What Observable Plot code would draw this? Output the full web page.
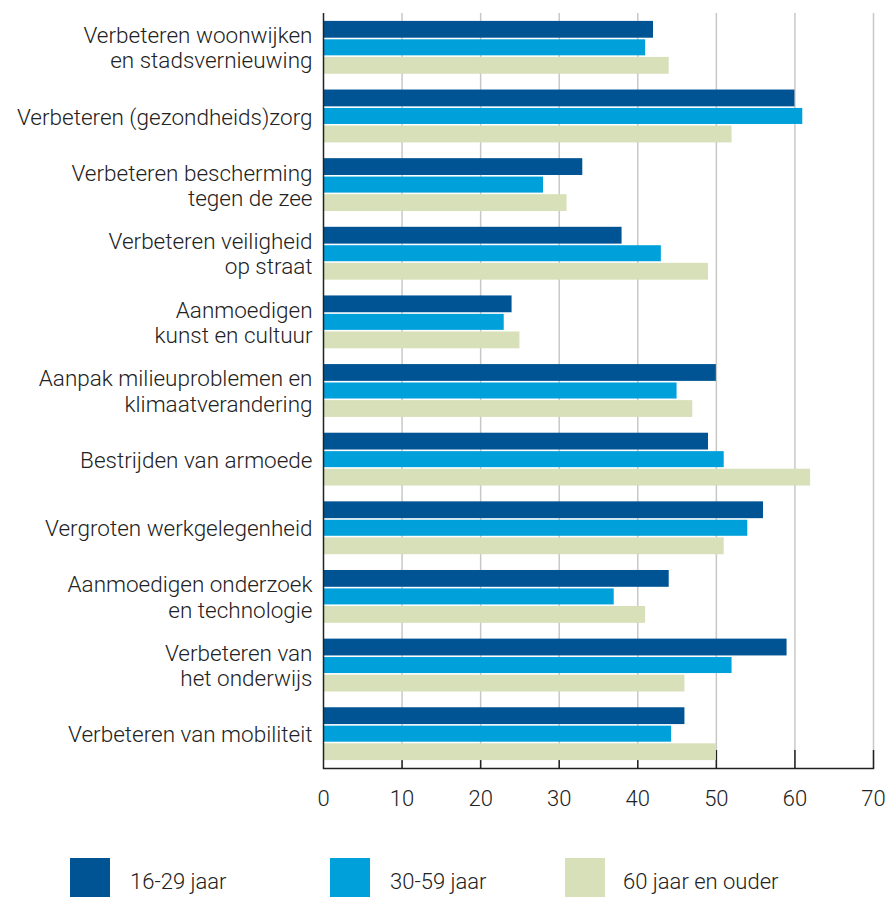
<!DOCTYPE html>
<html>
<head>
<meta charset="utf-8">
<script src="https://cdn.jsdelivr.net/npm/d3@7"></script>
<script src="https://cdn.jsdelivr.net/npm/@observablehq/plot@0.6"></script>
<style>
  html, body { margin: 0; padding: 0; background: #fff; }
  #wrap { position: relative; width: 886px; height: 897px; overflow: hidden; font-family: Roboto, "Noto Sans", sans-serif; font-weight: 300; color: #222; }
  #legend { position: absolute; top: 858px; left: 0; width: 886px; height: 40px; }
  .sw { position: absolute; top: 0; width: 40px; height: 40px; }
  .lt { position: absolute; top: 0; height: 40px; line-height: 48px; font-size: 22px; white-space: nowrap; }
</style>
</head>
<body>
<div id="wrap"><div id="chart"></div><div id="legend"></div></div>
<script>
const categories = [
  "Verbeteren woonwijken\nen stadsvernieuwing",
  "Verbeteren (gezondheids)zorg",
  "Verbeteren bescherming\ntegen de zee",
  "Verbeteren veiligheid\nop straat",
  "Aanmoedigen\nkunst en cultuur",
  "Aanpak milieuproblemen en\nklimaatverandering",
  "Bestrijden van armoede",
  "Vergroten werkgelegenheid",
  "Aanmoedigen onderzoek\nen technologie",
  "Verbeteren van\nhet onderwijs",
  "Verbeteren van mobiliteit"
];
const series = ["16-29 jaar", "30-59 jaar", "60 jaar en ouder"];
const values1629 = [42, 60, 33, 38, 24, 50, 49, 56, 44, 59, 46];
const values3059 = [41, 61, 28, 43, 23, 45, 51, 54, 37, 52, 44.3];
const values60plus = [44, 52, 31, 49, 25, 47, 62, 51, 41, 46, 50];
const xTicks = [0, 10, 20, 30, 40, 50, 60, 70];
const colors = ["#005493", "#00a0da", "#d7e0b8"];

const allValues = [values1629, values3059, values60plus];
const rows = [];
series.forEach((s, i) => categories.forEach((c, j) => rows.push({category: c, series: s, value: allValues[i][j]})));

const W = 886, H = 830, mT = 13, mB = 62, mL = 323, mR = 13;
const pIn = 0.23, pOut = 0.115;
const step = (H - mT - mB) / (categories.length - pIn + 2 * pOut);
const bw = step * (1 - pIn);
const third = bw / 3, gap = 0.8;
const insets = [
  {insetTop: 0, insetBottom: bw - third + gap},
  {insetTop: third + gap, insetBottom: third + gap},
  {insetTop: 2 * third + gap, insetBottom: 0}
];

const barMarks = series.map((s, i) => Plot.barX(rows.filter(r => r.series === s), {
  x: "value", y: "category", fill: colors[i], ...insets[i]
}));

const chart = Plot.plot({
  width: W, height: H,
  marginTop: mT, marginBottom: mB, marginLeft: mL, marginRight: mR,
  style: {fontFamily: "Roboto, 'Noto Sans', sans-serif", fontWeight: 300, color: "#222", background: "#fff"},
  x: {domain: [0, 70], ticks: xTicks, label: null},
  y: {domain: categories, paddingInner: pIn, paddingOuter: pOut, align: 0.5, round: false, label: null},
  marks: [
    Plot.ruleX(xTicks.slice(1), {stroke: "#c8c8c8", strokeWidth: 1.5}),
    Plot.ruleX(xTicks.slice(1), {stroke: "#222", strokeWidth: 1.5, insetTop: H - mT - mB - 18}),
    ...barMarks,
    Plot.ruleX([0], {stroke: "#222", strokeWidth: 1.5}),
    Plot.frame({anchor: "bottom", stroke: "#222", strokeWidth: 1.5}),
    Plot.axisX(xTicks, {tickSize: 0, tickPadding: 22, fontSize: 22, fill: "#222", fontWeight: 300, label: null}),
    Plot.axisY({tickSize: 0, tickPadding: 11, fontSize: 22.5, fill: "#222", fontWeight: 300, lineHeight: 1.12, label: null})
  ]
});
document.getElementById("chart").appendChild(chart);

const legend = document.getElementById("legend");
const swLeft = [70, 330, 565];
const txLeft = [130, 390, 623];
series.forEach((s, i) => {
  const sw = document.createElement("div");
  sw.className = "sw"; sw.style.left = swLeft[i] + "px"; sw.style.background = colors[i];
  legend.appendChild(sw);
  const t = document.createElement("div");
  t.className = "lt"; t.style.left = txLeft[i] + "px"; t.textContent = s;
  legend.appendChild(t);
});
</script>
</body>
</html>
